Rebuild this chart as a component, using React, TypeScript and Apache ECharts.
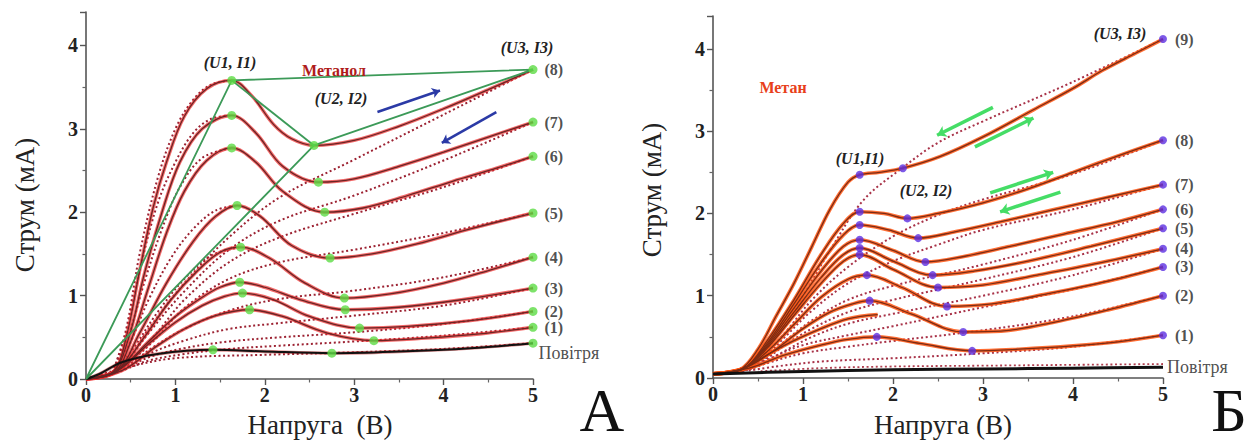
import React, { useEffect, useRef } from "react";
import * as echarts from "echarts";

// ---------- Panel A (Метанол) ----------
const A_END_LABELS = ["(8)", "(7)", "(6)", "(5)", "(4)", "(3)", "(2)", "(1)", "Повітря"];
const A_U1 = [[1.63, 3.58], [1.63, 3.16], [1.63, 2.77], [1.69, 2.08], [1.73, 1.58], [1.72, 1.16], [1.75, 1.03], [1.83, 0.83], [1.42, 0.35]];
const A_U2 = [[2.55, 2.8], [2.6, 2.36], [2.67, 2.0], [2.73, 1.45], [2.89, 0.97], [2.9, 0.83], [3.06, 0.61], [3.22, 0.46], [2.75, 0.31]];
const A_U3 = [[5, 3.71], [5, 3.08], [5, 2.67], [5, 1.99], [5, 1.46], [5, 1.09], [5, 0.81], [5, 0.62], [5, 0.43]];

const A_SOLID_8 = [[0, 0], [0.3, 0.08], [0.45, 0.5], [0.6, 1.3], [0.75, 2.05], [0.9, 2.6], [1.1, 3.15], [1.35, 3.48], [1.63, 3.58], [1.85, 3.4], [2.1, 3.05], [2.3, 2.88], [2.55, 2.8], [3, 2.86], [3.5, 3.03], [4, 3.24], [4.5, 3.47], [5, 3.71]];
const A_SOLID_7 = [[0, 0], [0.3, 0.08], [0.48, 0.5], [0.65, 1.25], [0.85, 2.0], [1.05, 2.6], [1.3, 3.0], [1.63, 3.16], [1.9, 2.95], [2.2, 2.55], [2.6, 2.36], [3, 2.4], [3.5, 2.55], [4, 2.72], [4.5, 2.9], [5, 3.08]];
const A_SOLID_6 = [[0, 0], [0.32, 0.08], [0.5, 0.45], [0.7, 1.1], [0.9, 1.75], [1.1, 2.25], [1.35, 2.62], [1.63, 2.77], [1.9, 2.6], [2.2, 2.25], [2.67, 2.0], [3.1, 2.05], [3.6, 2.2], [4.1, 2.37], [4.6, 2.53], [5, 2.67]];
const A_SOLID_5 = [[0, 0], [0.35, 0.1], [0.6, 0.55], [0.9, 1.15], [1.2, 1.65], [1.45, 1.95], [1.69, 2.08], [1.95, 1.95], [2.3, 1.6], [2.73, 1.45], [3.2, 1.5], [3.7, 1.62], [4.3, 1.8], [5, 1.99]];
const A_SOLID_4 = [[0, 0], [0.35, 0.1], [0.65, 0.5], [0.95, 0.95], [1.25, 1.3], [1.5, 1.52], [1.73, 1.58], [2.05, 1.45], [2.45, 1.15], [2.89, 0.97], [3.4, 1.02], [4, 1.15], [4.5, 1.3], [5, 1.46]];
const A_SOLID_3 = [[0, 0], [0.35, 0.1], [0.7, 0.45], [1.0, 0.75], [1.3, 0.98], [1.5, 1.1], [1.72, 1.16], [2.0, 1.1], [2.4, 0.95], [2.9, 0.83], [3.5, 0.86], [4.2, 0.95], [5, 1.09]];
const A_SOLID_2 = [[0, 0], [0.35, 0.1], [0.7, 0.42], [1.0, 0.68], [1.3, 0.88], [1.55, 0.99], [1.75, 1.03], [2.1, 0.95], [2.5, 0.75], [3.06, 0.61], [3.6, 0.63], [4.3, 0.7], [5, 0.81]];
const A_SOLID_1 = [[0, 0], [0.4, 0.1], [0.8, 0.4], [1.1, 0.6], [1.45, 0.76], [1.83, 0.83], [2.2, 0.75], [2.7, 0.55], [3.22, 0.46], [3.8, 0.49], [4.4, 0.54], [5, 0.62]];
const A_AIR = [[0, 0], [0.15, 0.06], [0.4, 0.2], [0.8, 0.3], [1.42, 0.35], [2.0, 0.33], [2.75, 0.31], [3.5, 0.33], [4.3, 0.37], [5, 0.43]];

const A_BACK_8 = [[5, 3.71], [4, 3.17], [3, 2.63], [2.17, 2.18], [1.6, 1.7], [1.1, 1.15], [0.7, 0.6], [0.45, 0.2], [0.3, 0.08], [0, 0]];
const A_BACK_7 = [[5, 3.08], [4, 2.62], [3, 2.2], [2.17, 1.9], [1.6, 1.55], [1.1, 1.05], [0.7, 0.55], [0.45, 0.2], [0.3, 0.08], [0, 0]];
const A_BACK_6 = [[5, 2.67], [4, 2.3], [3, 1.98], [2.17, 1.7], [1.6, 1.4], [1.1, 0.95], [0.75, 0.5], [0.45, 0.18], [0.3, 0.08], [0, 0]];
const A_BACK_5 = [[5, 1.99], [4, 1.75], [3, 1.55], [2.17, 1.4], [1.6, 1.2], [1.1, 0.85], [0.75, 0.45], [0.45, 0.17], [0.3, 0.08], [0, 0]];
const A_BACK_4 = [[5, 1.46], [4, 1.22], [3, 1.06], [2.17, 0.96], [1.6, 0.82], [1.1, 0.6], [0.75, 0.38], [0.45, 0.15], [0.3, 0.07], [0, 0]];
const A_BACK_3 = [[5, 1.09], [4, 0.88], [3, 0.76], [2.17, 0.67], [1.6, 0.6], [1.1, 0.46], [0.7, 0.3], [0.45, 0.14], [0.3, 0.07], [0, 0]];
const A_BACK_2 = [[5, 0.81], [4, 0.66], [3, 0.56], [2.17, 0.5], [1.6, 0.45], [1.1, 0.37], [0.7, 0.26], [0.45, 0.13], [0.3, 0.07], [0, 0]];
const A_BACK_1 = [[5, 0.62], [4, 0.52], [3, 0.45], [2.17, 0.4], [1.6, 0.36], [1.1, 0.3], [0.7, 0.22], [0.45, 0.12], [0.3, 0.06], [0, 0]];
const A_BACK_AIR = [[5, 0.43], [4, 0.36], [3, 0.32], [2, 0.29], [1, 0.25], [0.5, 0.15], [0, 0]];

const A_RISE_8 = [[0.3, 0.08], [0.45, 0.6], [0.6, 1.5], [0.8, 2.4], [1.0, 3.0], [1.2, 3.35], [1.4, 3.53], [1.63, 3.58]];
const A_RISE_7 = [[0.3, 0.08], [0.45, 0.55], [0.6, 1.3], [0.8, 2.1], [1.0, 2.6], [1.2, 2.95], [1.4, 3.12], [1.63, 3.16]];
const A_RISE_6 = [[0.3, 0.08], [0.47, 0.5], [0.65, 1.15], [0.85, 1.8], [1.05, 2.3], [1.3, 2.65], [1.63, 2.77]];
const A_RISE_5 = [[0.32, 0.08], [0.5, 0.45], [0.7, 0.95], [0.95, 1.45], [1.2, 1.8], [1.45, 2.02], [1.69, 2.08]];
const A_RISE_4 = [[0.33, 0.08], [0.55, 0.4], [0.8, 0.8], [1.1, 1.2], [1.4, 1.48], [1.73, 1.58]];

const A_ARROWS = [[[3.26, 3.2], [3.96, 3.46]], [[4.59, 3.2], [3.98, 2.83]]];

// ---------- Panel Б (Метан) ----------
const B_END_LABELS = ["(9)", "(8)", "(7)", "(6)", "(5)", "(4)", "(3)", "(2)", "(1)"];
const B_U1 = [[1.63, 2.47], [1.63, 2.02], [1.63, 1.86], [1.63, 1.68], [1.63, 1.58], [1.63, 1.5], [1.71, 1.25], [1.74, 0.94], [1.82, 0.5]];
const B_U2 = [[2.11, 2.55], [2.16, 1.94], [2.28, 1.7], [2.36, 1.41], [2.44, 1.25], [2.5, 1.1], [2.6, 0.87], [2.78, 0.56], [2.88, 0.33]];
const B_U3 = [[5, 4.12], [5, 2.89], [5, 2.35], [5, 2.05], [5, 1.82], [5, 1.57], [5, 1.35], [5, 1.0], [5, 0.52]];

const B_SOLID_9 = [[0, 0.05], [0.3, 0.1], [0.5, 0.35], [0.7, 0.75], [0.9, 1.15], [1.1, 1.6], [1.3, 2.05], [1.5, 2.38], [1.63, 2.47], [1.85, 2.5], [2.11, 2.55], [2.52, 2.69], [3, 2.93], [3.56, 3.26], [4, 3.52], [4.33, 3.74], [4.7, 3.95], [5, 4.12]];
const B_SOLID_8 = [[0, 0.05], [0.35, 0.12], [0.6, 0.45], [0.9, 0.95], [1.2, 1.5], [1.45, 1.88], [1.63, 2.02], [1.9, 2.0], [2.16, 1.94], [2.5, 2.0], [3, 2.13], [3.5, 2.3], [4, 2.5], [4.5, 2.7], [5, 2.89]];
const B_SOLID_7 = [[0, 0.05], [0.35, 0.12], [0.6, 0.42], [0.9, 0.9], [1.2, 1.4], [1.45, 1.74], [1.63, 1.86], [1.95, 1.8], [2.28, 1.7], [2.7, 1.78], [3.2, 1.9], [3.8, 2.05], [4.4, 2.2], [5, 2.35]];
const B_SOLID_6 = [[0, 0.05], [0.35, 0.12], [0.6, 0.4], [0.9, 0.85], [1.2, 1.3], [1.45, 1.6], [1.63, 1.68], [2.0, 1.55], [2.36, 1.41], [2.8, 1.48], [3.3, 1.6], [3.9, 1.75], [4.5, 1.9], [5, 2.05]];
const B_SOLID_5 = [[0, 0.05], [0.35, 0.12], [0.6, 0.38], [0.9, 0.8], [1.2, 1.22], [1.45, 1.5], [1.63, 1.58], [2.0, 1.42], [2.44, 1.25], [2.9, 1.3], [3.5, 1.42], [4.2, 1.6], [5, 1.82]];
const B_SOLID_4 = [[0, 0.05], [0.35, 0.12], [0.6, 0.36], [0.9, 0.76], [1.2, 1.15], [1.45, 1.42], [1.63, 1.5], [2.0, 1.32], [2.5, 1.1], [3, 1.13], [3.6, 1.25], [4.3, 1.4], [5, 1.57]];
const B_SOLID_3 = [[0, 0.05], [0.35, 0.12], [0.6, 0.32], [0.9, 0.65], [1.2, 0.98], [1.5, 1.2], [1.71, 1.25], [2.1, 1.1], [2.6, 0.87], [3.1, 0.9], [3.7, 1.02], [4.4, 1.18], [5, 1.35]];
const B_SOLID_2 = [[0, 0.05], [0.35, 0.12], [0.7, 0.35], [1.0, 0.6], [1.3, 0.8], [1.55, 0.9], [1.74, 0.94], [2.2, 0.78], [2.78, 0.56], [3.2, 0.57], [3.8, 0.68], [4.4, 0.83], [5, 1.0]];
const B_SOLID_1 = [[0, 0.05], [0.4, 0.12], [0.8, 0.28], [1.2, 0.4], [1.5, 0.47], [1.82, 0.5], [2.3, 0.42], [2.88, 0.33], [3.4, 0.35], [4, 0.39], [4.5, 0.44], [5, 0.52]];
const B_SOLID_X = [[0.35, 0.12], [0.8, 0.4], [1.2, 0.6], [1.5, 0.72], [1.83, 0.77]];
const B_AIR = [[0, 0.05], [1, 0.08], [2, 0.1], [3, 0.11], [4, 0.12], [5, 0.13]];

const B_BACK_9 = [[5, 4.12], [4, 3.6], [3, 3.12], [2.5, 2.86], [2.1, 2.55], [1.67, 2.16], [1.3, 1.55], [1.0, 1.0], [0.7, 0.5], [0.45, 0.15], [0.3, 0.08], [0, 0.05]];
const B_BACK_8 = [[5, 2.89], [4, 2.48], [3, 2.17], [2.5, 1.98], [2, 1.72], [1.5, 1.35], [1.1, 0.95], [0.8, 0.55], [0.5, 0.2], [0.3, 0.08], [0, 0.05]];
const B_BACK_7 = [[5, 2.35], [4, 2.05], [3, 1.8], [2.5, 1.62], [2, 1.42], [1.5, 1.15], [1.1, 0.82], [0.8, 0.5], [0.5, 0.18], [0.3, 0.08], [0, 0.05]];
const B_BACK_6 = [[5, 2.05], [4, 1.68], [3, 1.38], [2, 1.12], [1.5, 0.95], [1.1, 0.7], [0.8, 0.45], [0.5, 0.17], [0.3, 0.08], [0, 0.05]];
const B_BACK_5 = [[5, 1.82], [4, 1.47], [3, 1.2], [2, 0.95], [1.5, 0.8], [1.1, 0.6], [0.8, 0.4], [0.5, 0.16], [0.3, 0.08]];
const B_BACK_4 = [[5, 1.57], [4, 1.25], [3, 1.0], [2, 0.78], [1.5, 0.66], [1.1, 0.5], [0.8, 0.33], [0.5, 0.15], [0.3, 0.08]];
const B_BACK_3 = [[5, 1.35], [4, 1.08], [3, 0.86], [2, 0.63], [1.5, 0.52], [1, 0.4], [0.7, 0.27], [0.45, 0.13], [0.3, 0.08]];
const B_BACK_2 = [[5, 1.0], [4, 0.75], [3, 0.58], [2, 0.45], [1.5, 0.38], [1, 0.3], [0.6, 0.18], [0.4, 0.1]];
const B_BACK_1 = [[5, 0.52], [4, 0.38], [3, 0.3], [2, 0.24], [1.2, 0.2], [0.7, 0.14], [0.4, 0.09]];
const B_BACK_AIR = [[5, 0.17], [4, 0.16], [3, 0.15], [2, 0.14], [1.2, 0.12], [0.5, 0.08]];

const B_ARROWS = [
  [[3.11, 3.29], [2.49, 2.95]],
  [[2.91, 2.81], [3.56, 3.16]],
  [[3.08, 2.25], [3.78, 2.5]],
  [[3.86, 2.26], [3.19, 2.02]],
];

const X_TICKS = [0, 1, 2, 3, 4, 5];
const Y_TICKS = [0, 1, 2, 3, 4];

const SERIF = "Liberation Serif, DejaVu Serif, serif";

export default function App() {
  const ref = useRef<HTMLDivElement>(null);

  useEffect(() => {
    if (!ref.current) return;
    const chart = echarts.init(ref.current, null, { renderer: "svg" });

    const axisCommon = {
      axisLine: { show: true, onZero: false, lineStyle: { color: "#555", width: 1.6 } },
      axisTick: { show: true, length: 6, lineStyle: { color: "#555", width: 1.4 } },
      minorTick: { show: true, splitNumber: 2, length: 3.5, lineStyle: { color: "#666", width: 1.2 } },
      splitLine: { show: false },
      axisLabel: { color: "#222", fontFamily: SERIF, fontWeight: "bold", fontSize: 20 },
    };

    const xAx = (gi: number) => ({
      ...axisCommon,
      type: "value",
      gridIndex: gi,
      min: X_TICKS[0],
      max: X_TICKS[X_TICKS.length - 1],
      interval: 1,
      axisLabel: { ...axisCommon.axisLabel, margin: 6 },
    });
    const yAx = (gi: number) => ({
      ...axisCommon,
      type: "value",
      gridIndex: gi,
      min: Y_TICKS[0],
      max: 4.4,
      interval: 1,
      axisLabel: { ...axisCommon.axisLabel, margin: 8, showMaxLabel: false, formatter: (v: number) => (Y_TICKS.includes(v) ? String(v) : "") },
    });

    const series: any[] = [];
    const line = (data: number[][], gi: number, ls: any, z: number) => {
      series.push({
        type: "line",
        xAxisIndex: gi,
        yAxisIndex: gi,
        data,
        smooth: 0.35,
        showSymbol: false,
        silent: true,
        z,
        lineStyle: ls,
      });
    };

    // Panel A dotted curves
    const aDot = { color: "#9c2232", width: 2, type: [2, 2.6] };
    [A_BACK_8, A_BACK_7, A_BACK_6, A_BACK_5, A_BACK_4, A_BACK_3, A_BACK_2, A_BACK_1, A_BACK_AIR].forEach((d) => line(d, 0, aDot, 1));
    [A_RISE_8, A_RISE_7, A_RISE_6, A_RISE_5, A_RISE_4].forEach((d) => line(d, 0, aDot, 1));
    // Panel A solid curves: red glow + dark core
    const aSolids = [A_SOLID_8, A_SOLID_7, A_SOLID_6, A_SOLID_5, A_SOLID_4, A_SOLID_3, A_SOLID_2, A_SOLID_1];
    aSolids.forEach((d) => line(d, 0, { color: "#ee2b2b", width: 3.4, opacity: 0.7 }, 2));
    aSolids.forEach((d) => line(d, 0, { color: "#6a2424", width: 1.3 }, 3));
    line(A_AIR, 0, { color: "#c02020", width: 3.4, opacity: 0.5 }, 2);
    line(A_AIR, 0, { color: "#111", width: 2 }, 3);

    // Green triangle lines in A
    const gStyle = { color: "#3c9a58", width: 1.8 };
    series.push({
      type: "line", xAxisIndex: 0, yAxisIndex: 0, smooth: false, showSymbol: false, silent: true, z: 4,
      data: [[0, 0], A_U1[0], A_U3[0], A_U2[0], [0, 0]], lineStyle: gStyle,
    });
    series.push({
      type: "line", xAxisIndex: 0, yAxisIndex: 0, smooth: false, showSymbol: false, silent: true, z: 4,
      data: [A_U1[0], A_U2[0]], lineStyle: gStyle,
    });

    // Markers A
    const aMark = { color: "#5ddc45" };
    series.push({ type: "scatter", xAxisIndex: 0, yAxisIndex: 0, symbolSize: 9, itemStyle: aMark, z: 6, data: [...A_U1, ...A_U2], silent: true });
    series.push({
      type: "scatter", xAxisIndex: 0, yAxisIndex: 0, symbolSize: 9, itemStyle: aMark, z: 6, silent: true,
      data: A_U3.map((p, i) => ({
        value: p,
        label: i === A_U3.length - 1
          ? { show: true, formatter: A_END_LABELS[i], position: [10, 5], fontFamily: SERIF, fontSize: 18, fontWeight: "normal", color: "#222", align: "left", verticalAlign: "top" }
          : { show: true, formatter: A_END_LABELS[i], position: "right", distance: 7, fontFamily: SERIF, fontSize: 16, fontWeight: "bold", color: "#222" },
      })),
    });

    // Blue arrows A
    series.push({
      type: "lines", coordinateSystem: "cartesian2d", xAxisIndex: 0, yAxisIndex: 0, z: 5, silent: true,
      symbol: ["none", "arrow"], symbolSize: 8,
      lineStyle: { color: "#2b3aa6", width: 2.6, opacity: 1, curveness: 0 },
      data: A_ARROWS.map((c) => ({ coords: c })),
    });

    // Panel B dotted
    const bDot = { color: "#a83248", width: 2, type: [2, 2.6] };
    [B_BACK_9, B_BACK_8, B_BACK_7, B_BACK_6, B_BACK_5, B_BACK_4, B_BACK_3, B_BACK_2, B_BACK_1].forEach((d) => line(d, 1, bDot, 1));
    line(B_BACK_AIR, 1, { color: "#b04050", width: 1.8, type: [2, 2.6] }, 1);
    const bSolids = [B_SOLID_9, B_SOLID_8, B_SOLID_7, B_SOLID_6, B_SOLID_5, B_SOLID_4, B_SOLID_3, B_SOLID_2, B_SOLID_1, B_SOLID_X];
    bSolids.forEach((d) => line(d, 1, { color: "#ff5510", width: 3.6, opacity: 0.85 }, 2));
    bSolids.forEach((d) => line(d, 1, { color: "#7c2c14", width: 1.3 }, 3));
    line(B_AIR, 1, { color: "#111", width: 3 }, 3);

    const bMark = { color: "#5b30e2" };
    series.push({ type: "scatter", xAxisIndex: 1, yAxisIndex: 1, symbolSize: 8, itemStyle: bMark, z: 6, data: [...B_U1, ...B_U2], silent: true });
    series.push({
      type: "scatter", xAxisIndex: 1, yAxisIndex: 1, symbolSize: 8, itemStyle: bMark, z: 6, silent: true,
      data: B_U3.map((p, i) => ({
        value: p,
        label: { show: true, formatter: B_END_LABELS[i], position: "right", distance: 8, fontFamily: SERIF, fontSize: 16, fontWeight: "bold", color: "#222" },
      })),
    });
    series.push({
      type: "scatter", xAxisIndex: 1, yAxisIndex: 1, symbolSize: 0, z: 6, silent: true,
      data: [{ value: B_AIR[B_AIR.length - 1], label: { show: true, formatter: "Повітря", position: "right", distance: 4, fontFamily: SERIF, fontSize: 18, color: "#222" } }],
    });

    series.push({
      type: "lines", coordinateSystem: "cartesian2d", xAxisIndex: 1, yAxisIndex: 1, z: 5, silent: true,
      symbol: ["none", "arrow"], symbolSize: 9,
      lineStyle: { color: "#45dd66", width: 3.5, opacity: 1, curveness: 0 },
      data: B_ARROWS.map((c) => ({ coords: c })),
    });

    const txt = (x: number, y: number, text: string, font: string, fill: string, rotation = 0) => ({
      type: "text", x, y, rotation, z: 10, silent: true,
      style: { text, font, fill, align: "center", verticalAlign: "middle" },
    });

    const graphic = [
      txt(230, 62, "(U1, I1)", `italic bold 16px ${SERIF}`, "#222"),
      txt(334, 70, "Метанол", `bold 16px ${SERIF}`, "#b01c1c"),
      txt(341, 98, "(U2, I2)", `italic bold 16px ${SERIF}`, "#222"),
      txt(527, 47, "(U3, I3)", `italic bold 16px ${SERIF}`, "#222"),
      txt(602, 410, "А", `62px ${SERIF}`, "#111"),
      txt(25, 205, "Струм (мА)", `27px ${SERIF}`, "#222", Math.PI / 2),
      txt(320, 425, "Напруга  (В)", `27px ${SERIF}`, "#222"),
      txt(860, 158, "(U1,I1)", `italic bold 16px ${SERIF}`, "#222"),
      txt(926, 190, "(U2, I2)", `italic bold 16px ${SERIF}`, "#222"),
      txt(1120, 33, "(U3, I3)", `italic bold 16px ${SERIF}`, "#222"),
      txt(783, 87, "Метан", `bold 16px ${SERIF}`, "#e8401a"),
      txt(1229, 410, "Б", `62px ${SERIF}`, "#111"),
      txt(652, 190, "Струм (мА)", `27px ${SERIF}`, "#222", Math.PI / 2),
      txt(943, 425, "Напруга (В)", `27px ${SERIF}`, "#222"),
    ];

    chart.setOption({
      animation: false,
      backgroundColor: "#fff",
      grid: [
        { left: 86, top: 12, width: 447, height: 367 },
        { left: 713, top: 16, width: 450, height: 362 },
      ],
      xAxis: [xAx(0), xAx(1)],
      yAxis: [yAx(0), yAx(1)],
      series,
      graphic,
    });

    return () => chart.dispose();
  }, []);

  return <div ref={ref} style={{ position: "absolute", left: 0, top: 0, width: 1259, height: 443, background: "#fff" }} />;
}
